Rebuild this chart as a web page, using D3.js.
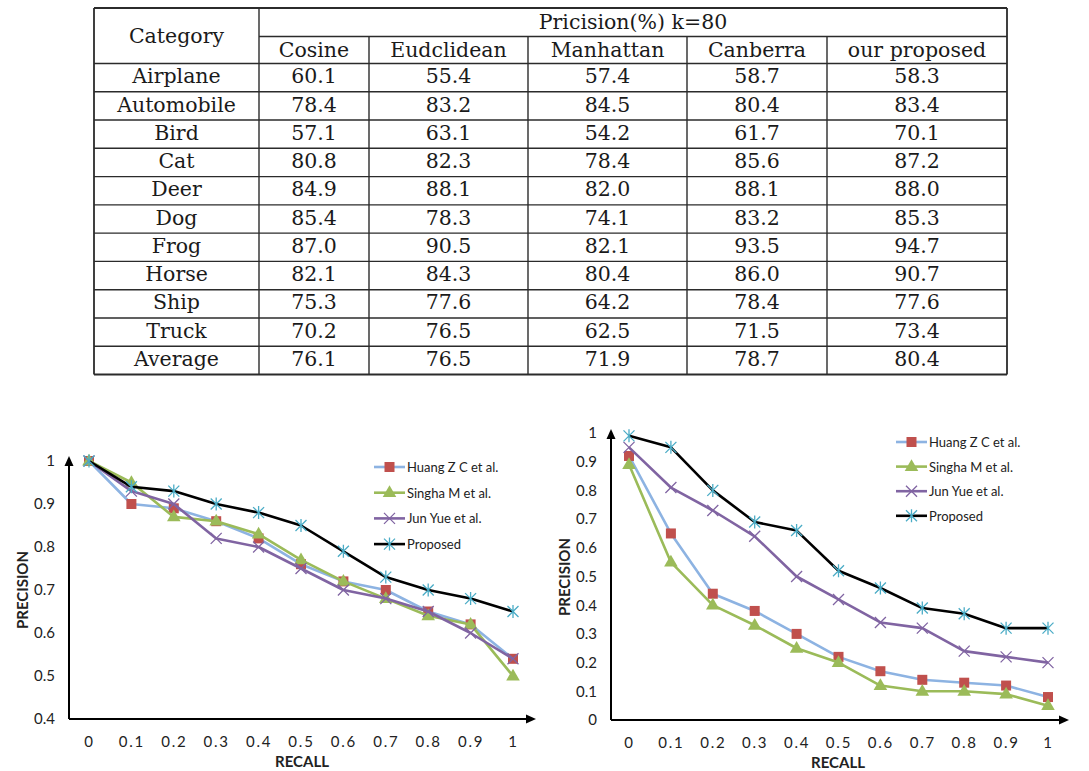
<!DOCTYPE html>
<html>
<head>
<meta charset="utf-8">
<script src="https://cdn.jsdelivr.net/npm/d3@7"></script>
<style>
  html, body { margin: 0; padding: 0; background: #fff; }
  svg { display: block; }
</style>
</head>
<body>
<svg id="chart" width="1089" height="771"></svg>
<script>
// ---------------- DATA ----------------
const tableTitle = "Pricision(%) k=80";
const categoryHeader = "Category";
const categories = ["Airplane", "Automobile", "Bird", "Cat", "Deer", "Dog", "Frog", "Horse", "Ship", "Truck", "Average"];
const methods = ["Cosine", "Eudclidean", "Manhattan", "Canberra", "our proposed"];
const cosine    = ["60.1", "78.4", "57.1", "80.8", "84.9", "85.4", "87.0", "82.1", "75.3", "70.2", "76.1"];
const euclidean = ["55.4", "83.2", "63.1", "82.3", "88.1", "78.3", "90.5", "84.3", "77.6", "76.5", "76.5"];
const manhattan = ["57.4", "84.5", "54.2", "78.4", "82.0", "74.1", "82.1", "80.4", "64.2", "62.5", "71.9"];
const canberra  = ["58.7", "80.4", "61.7", "85.6", "88.1", "83.2", "93.5", "86.0", "78.4", "71.5", "78.7"];
const proposedT = ["58.3", "83.4", "70.1", "87.2", "88.0", "85.3", "94.7", "90.7", "77.6", "73.4", "80.4"];

const recall = [0, 0.1, 0.2, 0.3, 0.4, 0.5, 0.6, 0.7, 0.8, 0.9, 1];
const seriesNames = ["Huang Z C et al.", "Singha M et al.", "Jun Yue et al.", "Proposed"];

const leftHuang    = [1.00, 0.90, 0.89, 0.86, 0.82, 0.76, 0.72, 0.70, 0.65, 0.62, 0.54];
const leftSingha   = [1.00, 0.95, 0.87, 0.86, 0.83, 0.77, 0.72, 0.68, 0.64, 0.62, 0.50];
const leftJunYue   = [1.00, 0.93, 0.90, 0.82, 0.80, 0.75, 0.70, 0.68, 0.65, 0.60, 0.54];
const leftProposed = [1.00, 0.94, 0.93, 0.90, 0.88, 0.85, 0.79, 0.73, 0.70, 0.68, 0.65];

const rightHuang    = [0.92, 0.65, 0.44, 0.38, 0.30, 0.22, 0.17, 0.14, 0.13, 0.12, 0.08];
const rightSingha   = [0.89, 0.55, 0.40, 0.33, 0.25, 0.20, 0.12, 0.10, 0.10, 0.09, 0.05];
const rightJunYue   = [0.95, 0.81, 0.73, 0.64, 0.50, 0.42, 0.34, 0.32, 0.24, 0.22, 0.20];
const rightProposed = [0.99, 0.95, 0.80, 0.69, 0.66, 0.52, 0.46, 0.39, 0.37, 0.32, 0.32];

const leftYTicks  = [0.4, 0.5, 0.6, 0.7, 0.8, 0.9, 1];
const rightYTicks = [0, 0.1, 0.2, 0.3, 0.4, 0.5, 0.6, 0.7, 0.8, 0.9, 1];
const xTitle = "RECALL";
const yTitle = "PRECISION";

// ---------------- TABLE ----------------
const svg = d3.select("#chart");
const tableCols = [categories, cosine, euclidean, manhattan, canberra, proposedT];
const colEdges = [94, 259, 369, 528, 687, 827, 1007];
const tTop = 8, tMid = 36.5, tHead = 63.5, tBottom = 374.5;
const rowScale = d3.scaleBand().domain(categories).range([tHead, tBottom]);
const lineColor = "#2b2b2b";
const serif = "'DejaVu Serif', serif";
const tfs = 20.5;

const tbl = svg.append("g").attr("class", "table");
const hLines = [tTop, tHead, ...categories.map(c => rowScale(c) + rowScale.bandwidth())];
tbl.selectAll("line.h").data(hLines).join("line")
  .attr("x1", colEdges[0]).attr("x2", colEdges[6])
  .attr("y1", d => d).attr("y2", d => d)
  .attr("stroke", lineColor).attr("stroke-width", (d, i) => (i === 0 || i === hLines.length - 1) ? 1.8 : 1.4);
tbl.append("line").attr("x1", colEdges[1]).attr("x2", colEdges[6]).attr("y1", tMid).attr("y2", tMid)
  .attr("stroke", lineColor).attr("stroke-width", 1.4);
tbl.selectAll("line.v").data(colEdges).join("line")
  .attr("x1", d => d).attr("x2", d => d)
  .attr("y1", (d, i) => (i === 0 || i === 1 || i === 6) ? tTop : tMid)
  .attr("y2", tBottom)
  .attr("stroke", lineColor).attr("stroke-width", (d, i) => (i === 0 || i === 6) ? 1.8 : 1.4);

const txt = (x, y, s) => tbl.append("text").attr("x", x).attr("y", y).text(s)
  .attr("text-anchor", "middle").attr("font-family", serif).attr("font-size", tfs).attr("fill", "#1a1a1a");
txt((colEdges[0] + colEdges[1]) / 2, 43, categoryHeader);
txt((colEdges[1] + colEdges[6]) / 2, 29, tableTitle);
methods.forEach((m, i) => txt((colEdges[i + 1] + colEdges[i + 2]) / 2, 57, m));
tableCols.forEach((col, ci) => {
  col.forEach((v, ri) => {
    const y = rowScale(categories[ri]) + rowScale.bandwidth() * 0.70;
    txt((colEdges[ci] + colEdges[ci + 1]) / 2, y, v);
  });
});

// ---------------- LINE CHARTS ----------------
const sans = "Lato, 'Open Sans', sans-serif";
const colors = {
  line: ["#8db3e2", "#9bbb59", "#8064a2", "#000000"],
  marker: ["#c0504d", "#9bbb59", "#8064a2", "#4bacc6"]
};

function marker(g, type, x, y, col) {
  if (type === 0) {
    g.append("rect").attr("x", x - 5).attr("y", y - 5).attr("width", 10).attr("height", 10).attr("fill", col);
  } else if (type === 1) {
    g.append("path").attr("d", d3.symbol(d3.symbolTriangle, 80)()).attr("transform", `translate(${x},${y + 0.5})`).attr("fill", col);
  } else if (type === 2) {
    const r = 5.5;
    g.append("path").attr("d", `M${x - r},${y - r}L${x + r},${y + r}M${x - r},${y + r}L${x + r},${y - r}`)
      .attr("stroke", col).attr("stroke-width", 1.3).attr("fill", "none");
  } else {
    const r = 5.5, v = 6.5;
    g.append("path").attr("d", `M${x - r},${y - r}L${x + r},${y + r}M${x - r},${y + r}L${x + r},${y - r}M${x},${y - v}L${x},${y + v}`)
      .attr("stroke", col).attr("stroke-width", 1.3).attr("fill", "none");
  }
}

function drawChart(cfg) {
  const g = svg.append("g");
  const x = d3.scaleLinear().domain([0, 1]).range([cfg.x0, cfg.x1]);
  const y = d3.scaleLinear().domain(cfg.yDomain).range([cfg.yBottom, cfg.yTop]);
  const ax = cfg.axisX, ay = y(cfg.yDomain[0]);

  const yAxis = g.append("g").attr("transform", `translate(${ax},0)`)
    .call(d3.axisLeft(y).tickValues(cfg.yTicks).tickSize(0).tickPadding(14).tickFormat(d3.format("~g")));
  yAxis.select(".domain").remove();
  yAxis.selectAll("text").attr("font-family", sans).attr("font-size", 15).attr("fill", "#222");

  const xAxis = g.append("g").attr("transform", `translate(0,${ay})`)
    .call(d3.axisBottom(x).tickValues(recall).tickSize(0).tickPadding(17).tickFormat(d3.format("~g")));
  xAxis.select(".domain").remove();
  xAxis.selectAll("text").attr("font-family", sans).attr("font-size", 15).attr("fill", "#222")
    .attr("letter-spacing", "1.8px");

  g.append("line").attr("x1", ax).attr("x2", ax).attr("y1", ay).attr("y2", cfg.arrowTop + 8)
    .attr("stroke", "#000").attr("stroke-width", 2);
  g.append("path").attr("d", `M${ax},${cfg.arrowTop}L${ax - 4.5},${cfg.arrowTop + 10}L${ax + 4.5},${cfg.arrowTop + 10}Z`).attr("fill", "#000");
  g.append("line").attr("x1", ax).attr("x2", cfg.arrowRight - 8).attr("y1", ay).attr("y2", ay)
    .attr("stroke", "#000").attr("stroke-width", 2);
  g.append("path").attr("d", `M${cfg.arrowRight},${ay}L${cfg.arrowRight - 10},${ay - 4.5}L${cfg.arrowRight - 10},${ay + 4.5}Z`).attr("fill", "#000");

  g.append("text").attr("transform", `translate(${cfg.yTitleX},${cfg.yTitleY}) rotate(-90)`)
    .attr("text-anchor", "middle").attr("dominant-baseline", "central")
    .attr("font-family", sans).attr("font-weight", "bold").attr("font-size", 15).attr("fill", "#222").text(yTitle);
  g.append("text").attr("x", cfg.xTitleX).attr("y", cfg.xTitleY).attr("text-anchor", "middle")
    .attr("font-family", sans).attr("font-weight", "bold").attr("font-size", 15).attr("fill", "#222").text(xTitle);

  const line = d3.line().x((d, i) => x(recall[i])).y(d => y(d));
  cfg.series.forEach((s, si) => {
    g.append("path").datum(s).attr("d", line).attr("fill", "none")
      .attr("stroke", colors.line[si]).attr("stroke-width", 2.6).attr("stroke-linejoin", "round");
    s.forEach((v, i) => marker(g, si, x(recall[i]), y(v), colors.marker[si]));
  });

  seriesNames.forEach((name, si) => {
    const ly = cfg.legY + si * cfg.legStep;
    g.append("line").attr("x1", cfg.legX).attr("x2", cfg.legX + 31).attr("y1", ly).attr("y2", ly)
      .attr("stroke", colors.line[si]).attr("stroke-width", 2.6);
    marker(g, si, cfg.legX + 15.5, ly, colors.marker[si]);
    g.append("text").attr("x", cfg.legX + 33).attr("y", ly).attr("dominant-baseline", "central")
      .attr("font-family", sans).attr("font-size", 13).attr("fill", "#222").text(name);
  });
}

drawChart({
  x0: 89, x1: 513, yDomain: [0.4, 1], yBottom: 719, yTop: 461, axisX: 69,
  yTicks: leftYTicks, arrowTop: 456, arrowRight: 536,
  yTitleX: 22, yTitleY: 590, xTitleX: 302, xTitleY: 767,
  series: [leftHuang, leftSingha, leftJunYue, leftProposed],
  legX: 374, legY: 467, legStep: 25.7
});
drawChart({
  x0: 629, x1: 1048, yDomain: [0, 1], yBottom: 720, yTop: 433, axisX: 611,
  yTicks: rightYTicks, arrowTop: 429, arrowRight: 1069,
  yTitleX: 564, yTitleY: 577, xTitleX: 838, xTitleY: 768,
  series: [rightHuang, rightSingha, rightJunYue, rightProposed],
  legX: 896, legY: 442, legStep: 24.6
});
</script>
</body>
</html>
